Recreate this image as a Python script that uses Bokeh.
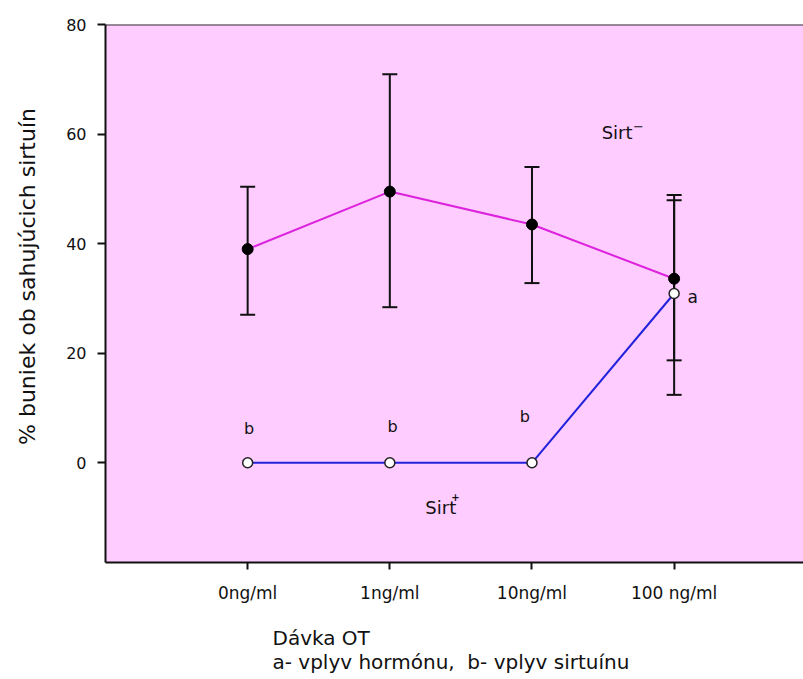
from bokeh.plotting import figure
from bokeh.models import (Range1d, FixedTicker, Whisker, ColumnDataSource, TeeHead, Span, Label)
from bokeh.core.properties import value
from bokeh.embed import file_html
from bokeh.resources import INLINE

# ---- data ----
dose_labels = ["0ng/ml", "1ng/ml", "10ng/ml", "100 ng/ml"]
dose_pos = [0, 1, 2, 3]
sirt_minus_mean = [39.0, 49.5, 43.5, 33.6]
sirt_minus_lower = [27.0, 28.4, 32.8, 18.7]
sirt_minus_upper = [50.4, 70.9, 54.0, 47.9]
sirt_plus_mean = [0.0, 0.0, 0.0, 30.9]
sirt_plus_lower = [None, None, None, 12.4]
sirt_plus_upper = [None, None, None, 48.9]
sig_b = ["b", "b", "b"]
sig_a = ["a"]
x_title_lines = ["Dávka OT", "a- vplyv hormónu,\u00a0 b- vplyv sirtuínu"]
y_title = "% buniek ob sahujúcich sirtuín"

FONT = value("DejaVu Sans")
INK = "#111111"

p = figure(width=803, height=679, x_range=Range1d(-1.0, 3.91), y_range=Range1d(-18.2, 80),
           output_backend="svg", toolbar_location=None,
           min_border_left=105, min_border_right=0, min_border_top=24, min_border_bottom=117,
           background_fill_color="#FFCCFF", border_fill_color="white", outline_line_color=None)
p.xgrid.visible = False
p.ygrid.visible = False

# axes
p.xaxis.ticker = FixedTicker(ticks=dose_pos)
p.xaxis.major_label_overrides = {pos: lab for pos, lab in zip(dose_pos, dose_labels)}
p.yaxis.ticker = FixedTicker(ticks=[0, 20, 40, 60, 80])
for ax in (p.xaxis, p.yaxis):
    ax.minor_tick_line_color = None
    ax.major_tick_in = 0
    ax.axis_line_width = 2
    ax.axis_line_color = INK
    ax.major_tick_line_color = INK
    ax.major_tick_line_width = 2
    ax.major_label_text_font = "DejaVu Sans"
    ax.major_label_text_color = INK
p.xaxis.major_tick_out = 7
p.xaxis.major_label_standoff = 13
p.xaxis.major_label_text_font_size = "17px"
p.yaxis.major_tick_out = 8
p.yaxis.major_label_standoff = 11
p.yaxis.major_label_text_font_size = "16px"

# axis titles as labels placed in the side panels (canvas pixel positions)
p.add_layout(Label(x=27, y=276, x_units="canvas", y_units="canvas", angle=90,
                   angle_units="deg", text=y_title, text_font="DejaVu Sans",
                   text_font_size="22px", text_color=INK,
                   text_align="center", text_baseline="middle"), "left")
for line, base in zip(x_title_lines, [637, 661]):
    p.add_layout(Label(x=272, y=base, x_units="canvas", y_units="canvas", text=line,
                       text_font="DejaVu Sans", text_font_size="20px", text_color=INK,
                       text_align="left", text_baseline="alphabetic"), "below")

p.add_layout(Span(location=80, dimension="width", line_color="#333333", line_width=2))

# error bars
src_m = ColumnDataSource(dict(x=dose_pos, lower=sirt_minus_lower, upper=sirt_minus_upper))
idx = [i for i, v in enumerate(sirt_plus_lower) if v is not None]
src_p = ColumnDataSource(dict(x=[dose_pos[i] for i in idx],
                              lower=[sirt_plus_lower[i] for i in idx],
                              upper=[sirt_plus_upper[i] for i in idx]))
for src in (src_m, src_p):
    w = Whisker(base="x", lower="lower", upper="upper", source=src,
                line_color=INK, line_width=2, level="underlay",
                upper_head=TeeHead(size=15, line_color=INK, line_width=2),
                lower_head=TeeHead(size=15, line_color=INK, line_width=2))
    p.add_layout(w)

# lines
p.line(dose_pos, sirt_plus_mean, line_color="#2222DD", line_width=2)
p.line(dose_pos, sirt_minus_mean, line_color="#DD22DD", line_width=2)
p.scatter(dose_pos, sirt_minus_mean, size=11, fill_color="black", line_color="black")
p.scatter(dose_pos, sirt_plus_mean, size=10, fill_color="white", line_color="#222222", line_width=1.5)

# significance letters
p.text(x=[0.01, 1.02, 1.95], y=[6.2, 6.7, 8.4], text=sig_b, text_font=FONT,
       text_font_size="16px", text_align="center", text_baseline="middle", text_color=INK)
p.text(x=[3.13], y=[30.2], text=sig_a, text_font=FONT,
       text_font_size="17px", text_align="center", text_baseline="middle", text_color=INK)

# series labels
p.text(x=[2.49, 1.25], y=[60.3, -8.2], text=["Sirt", "Sirt"], text_font=FONT,
       text_font_size="18px", text_align="left", text_baseline="middle", text_color=INK)
p.text(x=[2.71], y=[61.3], text=["\u2212"], text_font=FONT,
       text_font_size="13px", text_align="left", text_baseline="middle", text_color=INK)
p.text(x=[1.462], y=[-6.3], text=["+"], text_font=FONT, text_font_style="bold",
       text_font_size="10px", text_align="center", text_baseline="middle", text_color=INK)

open("out.html", "w").write(file_html(p, INLINE))
